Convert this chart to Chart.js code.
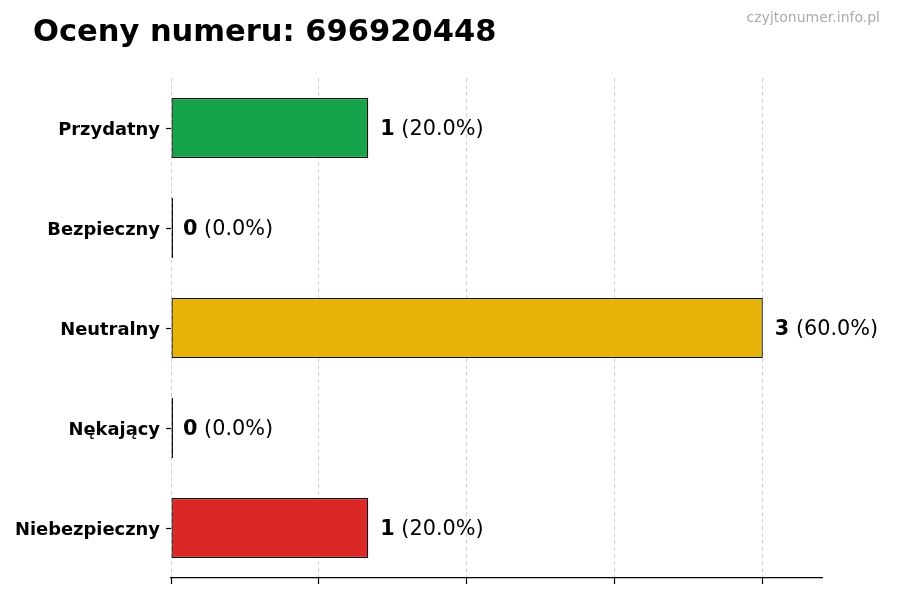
<!DOCTYPE html>
<html>
<head>
<meta charset="utf-8">
<script src="https://cdn.jsdelivr.net/npm/chart.js@4.4.1/dist/chart.umd.min.js"></script>
<style>
  html, body { margin: 0; padding: 0; background: #fff; }
  #wrap { width: 900px; height: 600px; }
</style>
</head>
<body>
<div id="wrap"><canvas id="chart1"></canvas></div>
<script>
const categories = ['Przydatny', 'Bezpieczny', 'Neutralny', 'Nękający', 'Niebezpieczny'];
const counts = [1, 0, 3, 0, 1];
const percents = ['20.0%', '0.0%', '60.0%', '0.0%', '20.0%'];
const barColors = ['#17a34a', '#17a34a', '#e9b40a', '#dc2727', '#dc2727'];
const xTicks = [0, 0.75, 1.5, 2.25, 3];

const titleText = 'Oceny numeru: 696920448';
const siteText = 'czyjtonumer.info.pl';
const FONT = "'DejaVu Sans', sans-serif";

// title, watermark and value labels next to bars
const textPlugin = {
    id: 'texts',
    afterDatasetsDraw(chart) {
        const ctx = chart.ctx;
        const meta = chart.getDatasetMeta(0);
        const xScale = chart.scales.x;

        ctx.save();
        ctx.fillStyle = '#000';
        ctx.textBaseline = 'alphabetic';
        ctx.textAlign = 'left';
        ctx.font = 'bold 30.5px ' + FONT;
        ctx.fillText(titleText, 33, 41);

        ctx.fillStyle = '#aaaaaa';
        ctx.textAlign = 'right';
        ctx.textBaseline = 'middle';
        ctx.font = '14px ' + FONT;
        ctx.fillText(siteText, 880, 18);

        ctx.textAlign = 'left';
        ctx.fillStyle = '#000';
        meta.data.forEach((bar, i) => {
            let x = xScale.getPixelForValue(counts[i]) + 12;
            const y = bar.y + 1.5;
            ctx.font = 'bold 20.8px ' + FONT;
            const numText = String(counts[i]);
            ctx.fillText(numText, x, y);
            x += ctx.measureText(numText).width;
            ctx.font = '20.8px ' + FONT;
            ctx.fillText(' (' + percents[i] + ')', x, y);
        });
        ctx.restore();
    }
};

const data = {
    labels: categories,
    datasets: [{
        data: counts,
        backgroundColor: barColors,
        borderColor: '#111',
        borderWidth: 1.3,
        borderSkipped: false,
        minBarLength: 2,
        barPercentage: 0.6,
        categoryPercentage: 1.0
    }]
};

const config = {
    type: 'bar',
    data: data,
    options: {
        indexAxis: 'y',
        responsive: true,
        maintainAspectRatio: false,
        animation: false,
        layout: {
            padding: { top: 78, right: 78, bottom: 16, left: 0 }
        },
        plugins: {
            legend: { display: false },
            title: { display: false },
            tooltip: { enabled: false }
        },
        scales: {
            x: {
                min: 0,
                max: 3.3,
                afterBuildTicks: (scale) => {
                    scale.ticks = xTicks.map(v => ({ value: v }));
                },
                ticks: { display: false },
                grid: {
                    color: 'rgba(0,0,0,0.18)',
                    lineWidth: 1,
                    tickLength: 6,
                    tickColor: '#000',
                    tickWidth: 1.2,
                    tickBorderDash: []
                },
                border: {
                    display: true,
                    color: '#000',
                    width: 1.2,
                    dash: [4, 3]
                }
            },
            y: {
                afterFit: (scale) => { scale.width = 171; },
                ticks: {
                    color: '#000',
                    padding: 6,
                    labelOffset: 2,
                    font: { family: FONT, size: 17.9, weight: 'bold' }
                },
                grid: {
                    offset: false,
                    drawOnChartArea: false,
                    tickLength: 5,
                    tickWidth: 1.2,
                    tickColor: '#000'
                },
                border: { display: false }
            }
        }
    },
    plugins: [textPlugin]
};

const chart1 = new Chart(document.getElementById('chart1'), config);
</script>
</body>
</html>
